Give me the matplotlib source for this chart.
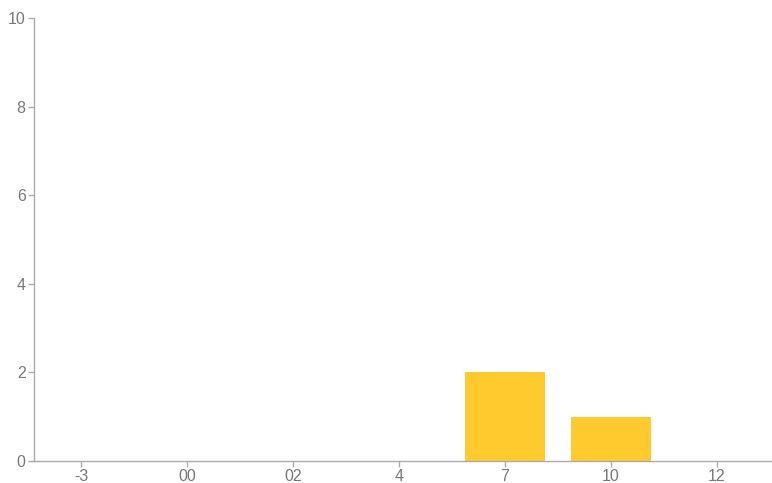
import matplotlib
matplotlib.use('Agg')
import matplotlib.pyplot as plt

categories = ['-3', '00', '02', '4', '7', '10', '12']
counts = [0, 0, 0, 0, 2, 1, 0]

plt.rcParams['font.family'] = ['Liberation Sans', 'DejaVu Sans']

fig = plt.figure(figsize=(7.72, 4.83), dpi=100)
ax = fig.add_axes([34 / 772, 22 / 483, (771 - 34) / 772, (461 - 18) / 483])

x = list(range(len(categories)))
ax.bar(x, counts, width=0.755, color='#FFCA2E', edgecolor='none')

ax.set_xlim(-0.443, 6.51)
ax.set_ylim(0, 10)
ax.set_xticks(x)
ax.set_xticklabels(categories)
ax.set_yticks([0, 2, 4, 6, 8, 10])

for side in ['top', 'right']:
    ax.spines[side].set_visible(False)
for side in ['left', 'bottom']:
    ax.spines[side].set_color('#aaaaaa')
    ax.spines[side].set_linewidth(1)

ax.tick_params(colors='#aaaaaa', labelcolor='#777777', labelsize=11.5,
               length=4, width=1, pad=2)

fig.savefig('out.png', dpi=100)
